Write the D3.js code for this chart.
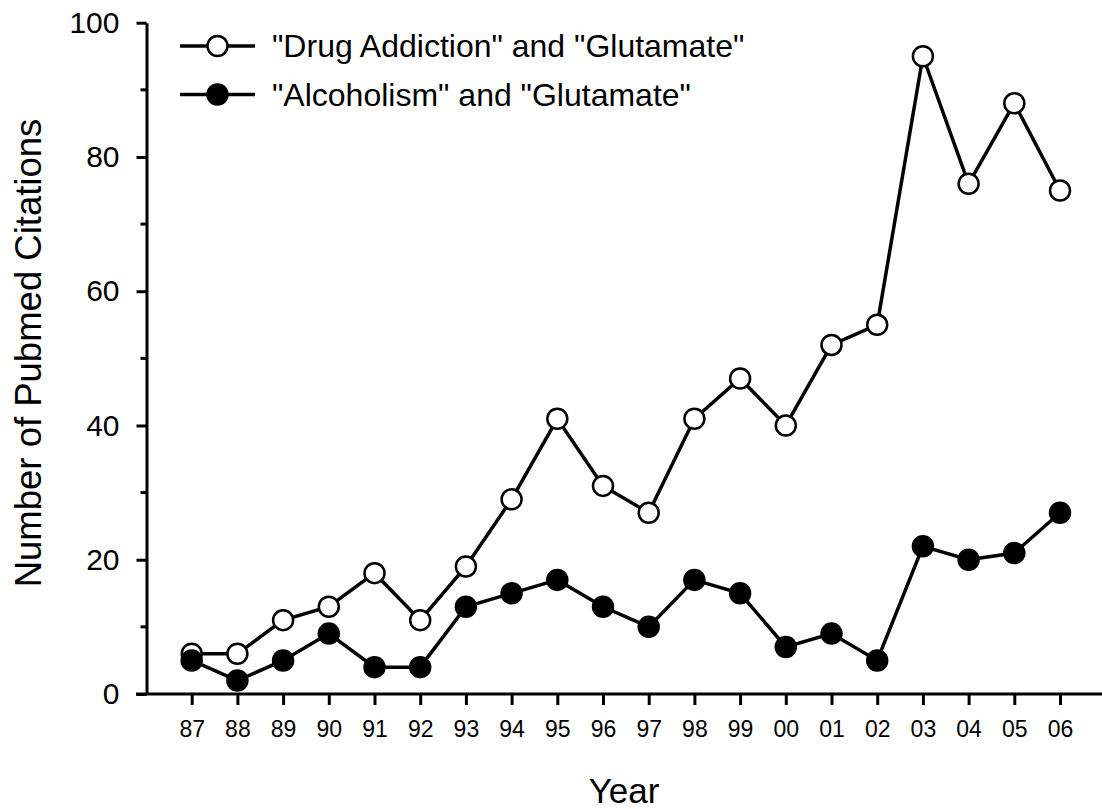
<!DOCTYPE html>
<html>
<head>
<meta charset="utf-8">
<script src="https://cdn.jsdelivr.net/npm/d3@7"></script>
<style>
  body { margin: 0; background: #fff; }
  svg { display: block; font-family: Arial, "Liberation Sans", sans-serif; }
</style>
</head>
<body>
<div id="chart"></div>
<script>
// Data
const years = ["87", "88", "89", "90", "91", "92", "93", "94", "95", "96",
               "97", "98", "99", "00", "01", "02", "03", "04", "05", "06"];
const drugAddiction = [6, 6, 11, 13, 18, 11, 19, 29, 41, 31, 27, 41, 47, 40, 52, 55, 95, 76, 88, 75];
const alcoholism = [5, 2, 5, 9, 4, 4, 13, 15, 17, 13, 10, 17, 15, 7, 9, 5, 22, 20, 21, 27];
const yMajorTicks = [0, 20, 40, 60, 80, 100];
const yMinorTicks = [10, 30, 50, 70, 90];
const seriesNames = ['"Drug Addiction" and "Glutamate"', '"Alcoholism" and "Glutamate"'];

const width = 1102, height = 809;

const svg = d3.select("#chart")
    .append("svg")
    .attr("width", width)
    .attr("height", height);

// Scales
const x = d3.scalePoint()
    .domain(years)
    .range([191.7, 1060]);

const y = d3.scaleLinear()
    .domain([0, 100])
    .range([694, 22.7]);

// Y axis (major + minor ticks)
const yAxis = svg.append("g")
    .attr("transform", "translate(146.5,0)")
    .call(d3.axisLeft(y).tickValues(yMajorTicks).tickSize(10).tickSizeOuter(0).tickPadding(17));

yAxis.select(".domain").attr("stroke-width", 3);
yAxis.selectAll(".tick line").attr("stroke-width", 3);
yAxis.selectAll(".tick text")
    .attr("font-size", "30px")
    .attr("fill", "#000")
    .attr("font-family", "Arial, 'Liberation Sans', sans-serif");

svg.append("g")
    .attr("transform", "translate(146.5,0)")
    .selectAll("line")
    .data(yMinorTicks)
    .join("line")
    .attr("x1", -6)
    .attr("x2", 0)
    .attr("y1", d => y(d))
    .attr("y2", d => y(d))
    .attr("stroke", "#000")
    .attr("stroke-width", 3);

// X axis
svg.append("line")
    .attr("x1", 136)
    .attr("x2", width)
    .attr("y1", y(0))
    .attr("y2", y(0))
    .attr("stroke", "#000")
    .attr("stroke-width", 3);

const xAxis = svg.append("g")
    .attr("transform", `translate(0,${y(0)})`)
    .call(d3.axisBottom(x).tickSize(11).tickSizeOuter(0).tickPadding(16));

xAxis.select(".domain").remove();
xAxis.selectAll(".tick line").attr("stroke-width", 3);
xAxis.selectAll(".tick text")
    .attr("font-size", "23px")
    .attr("fill", "#000")
    .attr("font-family", "Arial, 'Liberation Sans', sans-serif");

// Axis titles
svg.append("text")
    .attr("x", 624)
    .attr("y", 803)
    .attr("text-anchor", "middle")
    .attr("font-size", "35px")
    .text("Year");

svg.append("text")
    .attr("transform", "translate(41,353) rotate(-90)")
    .attr("text-anchor", "middle")
    .attr("font-size", "36.5px")
    .text("Number of Pubmed Citations");

// Lines
const line = d3.line()
    .x((d, i) => x(years[i]))
    .y(d => y(d));

const series = [
    { values: drugAddiction, fill: "#fff" },
    { values: alcoholism, fill: "#000" }
];

series.forEach(s => {
    svg.append("path")
        .datum(s.values)
        .attr("d", line)
        .attr("fill", "none")
        .attr("stroke", "#000")
        .attr("stroke-width", 3.5);
});

series.forEach(s => {
    svg.append("g")
        .selectAll("circle")
        .data(s.values)
        .join("circle")
        .attr("cx", (d, i) => x(years[i]))
        .attr("cy", d => y(d))
        .attr("r", 10)
        .attr("fill", s.fill)
        .attr("stroke", "#000")
        .attr("stroke-width", 2.5);
});

// Legend
const legend = svg.append("g");
const legendRows = [46, 94.5];

seriesNames.forEach((name, i) => {
    const g = legend.append("g").attr("transform", `translate(0,${legendRows[i]})`);
    g.append("line")
        .attr("x1", 180)
        .attr("x2", 255)
        .attr("stroke", "#000")
        .attr("stroke-width", 3.5);
    g.append("circle")
        .attr("cx", 217.5)
        .attr("r", 10)
        .attr("fill", series[i].fill)
        .attr("stroke", "#000")
        .attr("stroke-width", 2.5);
    g.append("text")
        .attr("x", 272)
        .attr("dy", "0.35em")
        .attr("font-size", "32px")
        .text(name);
});
</script>
</body>
</html>
